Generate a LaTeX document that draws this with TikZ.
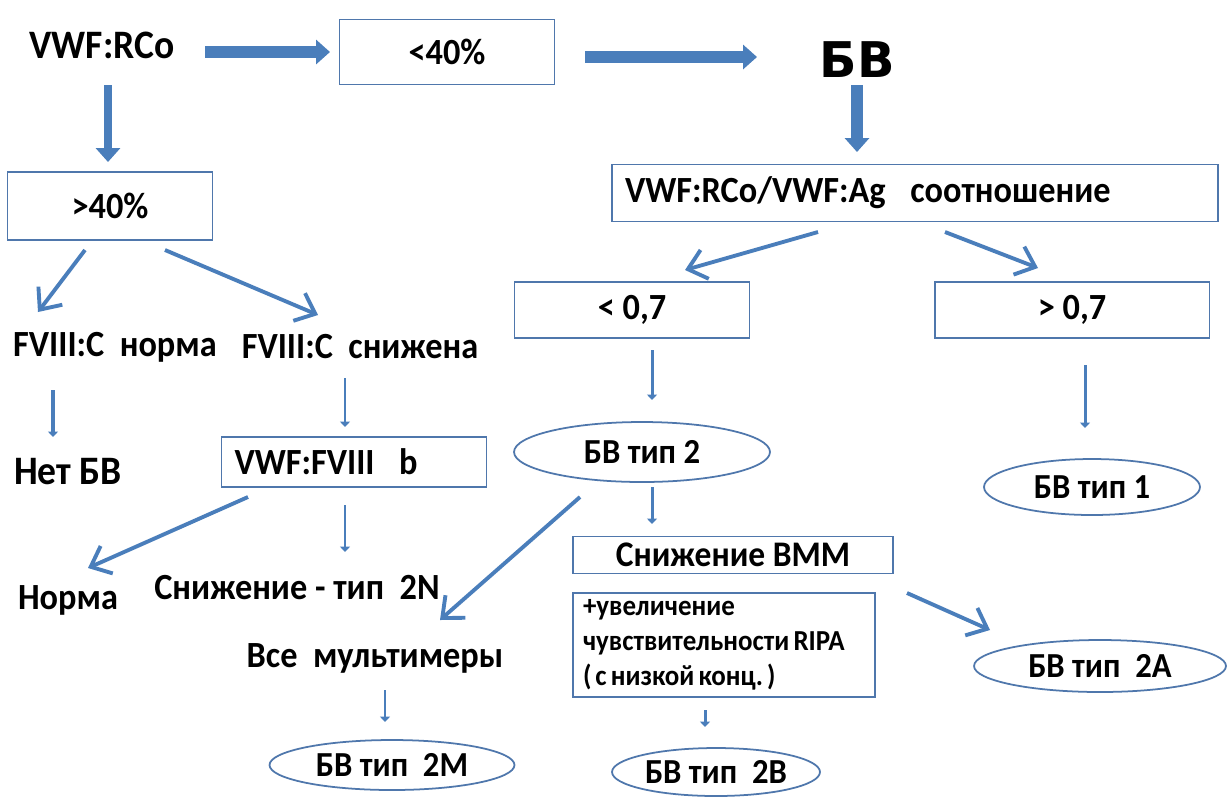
\documentclass[tikz,border=0pt]{standalone}
\usepackage{fontspec}
\setmainfont{Carlito}[FakeStretch=0.93]
\newfontfamily\bvfont{DejaVu Sans}
\usetikzlibrary{arrows.meta,shapes.geometric,calc}
\definecolor{lineblue}{RGB}{74,126,187}
\definecolor{boxblue}{RGB}{79,119,172}
\tikzset{
  txt/.style={font=\fontsize{21}{25}\selectfont\bfseries, inner sep=0pt},
  small/.style={font=\fontsize{20}{24}\selectfont\bfseries, inner sep=0pt},
  box/.style={draw=boxblue, line width=1.1pt, inner sep=0pt},
  oval/.style={ellipse, draw=boxblue, line width=1pt, inner sep=0pt, small},
  blockarrow/.style={draw=lineblue, line width=6.5pt, -{Triangle[length=2.8mm,width=4.8mm]}},
  vee/.style={draw=lineblue, line width=2.2pt, -{Straight Barb[length=3.5mm,width=6mm]}},
  thin/.style={draw=lineblue, line width=1.7pt, -{Triangle[length=1.1mm,width=2mm]}},
}
\begin{document}
\begin{tikzpicture}[x=0.02cm,y=-0.02cm]
  \useasboundingbox[fill=white] (0,0) rectangle (1230,796);
  % top row
  \node[txt,font=\fontsize{23}{27}\selectfont\bfseries] (rco) at (102,45) {VWF:RCo};
  \node[box,txt,minimum width=4.3cm,minimum height=1.3cm] (lt40) at (447,52) {<40\%};
  \node[font=\bvfont\fontsize{28}{30}\selectfont\bfseries, inner sep=0pt] (bv) at (857,60) {БВ};
  \node[box,txt,minimum width=12.12cm,minimum height=1.14cm,text width=11.6cm,align=left] (ratio) at (915,193) {VWF:RCo/VWF:Ag~~соотношение};
  % left branch
  \node[box,txt,minimum width=4.1cm,minimum height=1.36cm] (ge40) at (110,206) {>40\%};
  \node[txt] (fnorm) at (115,347) {FVIII:C~~норма};
  \node[txt] (fdown) at (360,347) {FVIII:C~~снижена};
  \node[txt,font=\fontsize{23}{27}\selectfont\bfseries] (nobv) at (68,472) {Нет БВ};
  \node[box,txt,minimum width=5.3cm,minimum height=1.0cm,text width=4.78cm,align=left] (fviii) at (354,462) {VWF:FVIII~~b};
  \node[txt] (norma) at (68,600) {Норма};
  \node[txt] (t2n) at (297,588) {Снижение - тип~~2N};
  \node[txt] (allmult) at (375,658) {Все~~мультимеры};
  \node[oval,minimum width=4.9cm,minimum height=1.0cm] (t2m) at (392,765) {БВ тип~~2М};
  % right branch
  \node[box,txt,minimum width=4.7cm,minimum height=1.12cm] (lt07) at (632,310) {< 0,7};
  \node[box,txt,minimum width=5.5cm,minimum height=1.12cm] (gt07) at (1072,310) {> 0,7};
  \node[oval,minimum width=5.12cm,minimum height=1.2cm] (t2) at (642,452) {БВ тип 2};
  \node[oval,minimum width=4.32cm,minimum height=1.12cm] (t1) at (1092,487) {БВ тип 1};
  \node[box,font=\fontsize{20.5}{24}\selectfont\bfseries,minimum width=6.4cm,minimum height=0.74cm] (bmm) at (733,555) {Снижение ВММ};
  \node[box,font=\fontsize{16.5}{20}\selectfont\bfseries,minimum width=6.04cm,minimum height=2.08cm,text width=5.64cm,align=left] (ripa) at (724,645) {\frenchspacing\spaceskip=0.14em\relax +увеличение\\чувствительности RIPA\\( с низкой конц. )};
  \node[oval,minimum width=5.04cm,minimum height=1.04cm] (t2a) at (1100,666) {БВ тип~~2А};
  \node[oval,minimum width=4.16cm,minimum height=0.96cm] (t2b) at (716,772) {БВ тип~~2В};
  % arrows
  \draw[blockarrow] ($(rco)+(103,7)$) -- ($(lt40)+(-117,0)$);
  \draw[blockarrow] ($(lt40)+(138,5)$) -- ($(bv)+(-100,-3)$);
  \draw[blockarrow] ($(bv)+(0,25)$) -- ($(ratio)+(-58,-41)$);
  \draw[blockarrow,line width=5pt] ($(rco)+(6,40)$) -- ($(ge40)+(-2,-44)$);
  \draw[vee] ($(ratio)+(-97,39)$) -- ($(lt07)+(53,-40)$);
  \draw[vee] ($(ratio)+(30,39)$) -- ($(gt07)+(-34,-42)$);
  \draw[thin] ($(lt07)+(20,40)$) -- ($(t2)+(10,-52)$);
  \draw[thin] ($(gt07)+(13,55)$) -- ($(t1)+(-7,-59)$);
  \draw[vee] ($(ge40)+(-25,44)$) -- ($(fnorm)+(-77,-35)$);
  \draw[vee] ($(ge40)+(55,44)$) -- ($(fdown)+(-42,-32)$);
  \draw[thin,line width=2.6pt] ($(fnorm)+(-62,43)$) -- ($(nobv)+(-15,-35)$);
  \draw[thin] ($(fdown)+(-15,31)$) -- ($(fviii)+(-9,-35)$);
  \draw[vee] ($(fviii)+(-106,35)$) -- ($(norma)+(20,-32)$);
  \draw[thin] ($(fviii)+(-9,43)$) -- ($(t2n)+(48,-36)$);
  \draw[vee] ($(t2)+(-62,45)$) -- ($(allmult)+(65,-38)$);
  \draw[thin] ($(allmult)+(10,32)$) -- ($(t2m)+(-7,-43)$);
  \draw[thin] ($(t2)+(10,35)$) -- ($(bmm)+(-81,-31)$);
  \draw[vee] ($(bmm)+(174,38)$) -- ($(t2a)+(-110,-36)$);
  \draw[thin] ($(ripa)+(-19,65)$) -- ($(t2b)+(-11,-45)$);
\end{tikzpicture}
\end{document}
